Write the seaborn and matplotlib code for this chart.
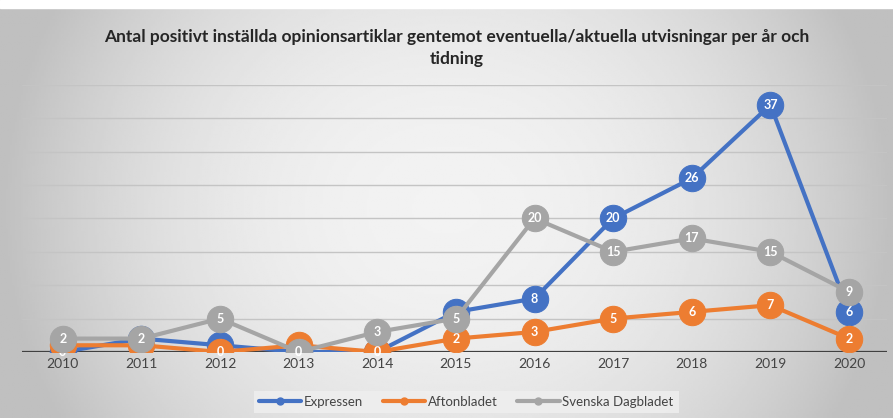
import numpy as np
import pandas as pd
import matplotlib.pyplot as plt
import seaborn as sns

# --- DATA ---
years = [2010, 2011, 2012, 2013, 2014, 2015, 2016, 2017, 2018, 2019, 2020]
expressen = [0, 2, 1, 0, 0, 6, 8, 20, 26, 37, 6]
aftonbladet = [1, 1, 0, 1, 0, 2, 3, 5, 6, 7, 2]
svd = [2, 2, 5, 0, 3, 5, 20, 15, 17, 15, 9]
series_names = ['Expressen', 'Aftonbladet', 'Svenska Dagbladet']
colors = ['#4472C4', '#ED7D31', '#A5A5A5']
title = 'Antal positivt inställda opinionsartiklar gentemot eventuella/aktuella utvisningar per år och\ntidning'

df = pd.DataFrame({'år': years * 3,
                   'antal': expressen + aftonbladet + svd,
                   'tidning': [n for n in series_names for _ in years]})

sns.set_style('white')
plt.rcParams['font.family'] = ['Lato', 'DejaVu Sans']

fig = plt.figure(figsize=(8.93, 4.18), dpi=100)

# --- BACKGROUND GRADIENT ---
bg = fig.add_axes([0, 0, 1, 1], zorder=-10)
xx, yy = np.meshgrid(np.linspace(-1, 1, 400), np.linspace(-1, 1, 200))
shade = 0.95 - 0.2 * np.clip(np.abs(xx) ** 2.2 + 0.25 * yy ** 2, 0, 1)
bg.imshow(shade, cmap='gray', vmin=0, vmax=1, aspect='auto',
          extent=[0, 1, 0, 1], origin='lower')
bg.axhspan(0.982, 1.0, color='white')
bg.set_xlim(0, 1)
bg.set_ylim(0, 1)
bg.axis('off')

# --- PLOT ---
ax = fig.add_axes([0.0246, 0.158, 0.9684, 0.639])
ax.patch.set_alpha(0)
for i, (name, col) in enumerate(zip(series_names, colors)):
    sub = df[df['tidning'] == name]
    sns.lineplot(data=sub, x='år', y='antal', ax=ax, color=col, lw=3,
                 marker='o', markersize=19, markeredgecolor=col,
                 label=name, zorder=3 + i)
    for x, y in zip(sub['år'], sub['antal']):
        ax.text(x, y, str(y), ha='center', va='center', color='white',
                fontsize=9, fontweight='bold', zorder=3.5 + i)

ax.set_xlim(2009.48, 2020.48)
ax.set_ylim(0, 40)
ax.set_yticks(range(0, 41, 5))
ax.set_yticklabels([])
ax.tick_params(axis='y', length=0)
ax.grid(axis='y', color='#c4c4c4', lw=1)
ax.set_axisbelow(True)
ax.axhline(0, color='#404040', lw=1.6, zorder=2)
ax.set_xticks(years)
ax.set_xticklabels([str(y) for y in years], fontsize=10, color='#444444')
ax.tick_params(axis='x', length=0, pad=4)
ax.set_xlabel('')
ax.set_ylabel('')
for s in ax.spines.values():
    s.set_visible(False)

# --- LEGEND ---
handles = [plt.Line2D([0], [0], color=c, lw=3, marker='o', markersize=5) for c in colors]
ax.legend(handles, series_names, loc='center', bbox_to_anchor=(0.522, 0.038),
          bbox_transform=fig.transFigure, ncol=3, frameon=True, fancybox=False,
          facecolor='#efefef', edgecolor='none', framealpha=0.85, fontsize=9.5,
          handlelength=3.2, handletextpad=0.2, columnspacing=1.5,
          labelcolor='#444444')

fig.text(0.512, 0.885, title, ha='center', va='center', fontsize=12.5,
         fontweight='bold', color='#262626', linespacing=1.5)

fig.savefig('out.png', dpi=100)
